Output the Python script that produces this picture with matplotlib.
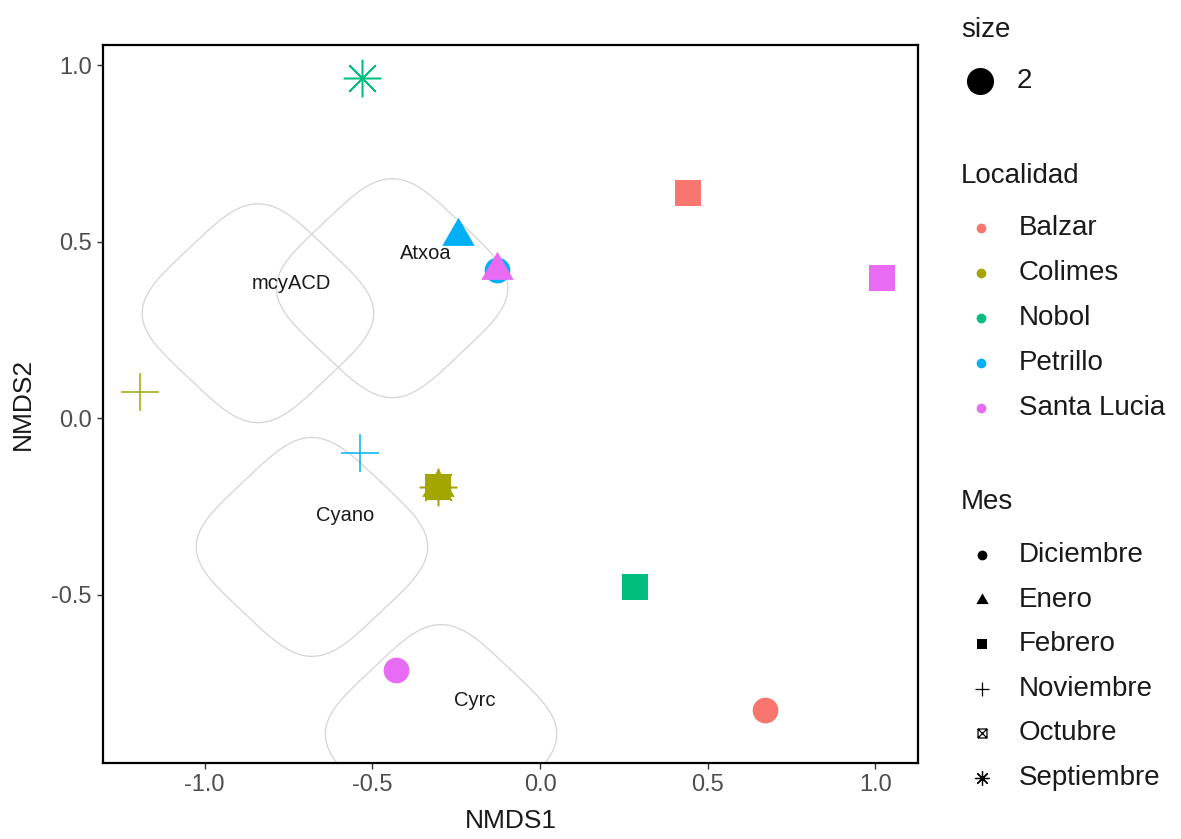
import matplotlib
matplotlib.use("Agg")
import matplotlib.pyplot as plt
import numpy as np
from matplotlib.path import Path
from matplotlib.lines import Line2D

plt.rcParams['font.family'] = ['Liberation Sans', 'DejaVu Sans']

# NMDS site scores
nmds1 = [-0.531, 0.441, -0.128, -0.244, -0.128, 1.020, -1.193, -0.537,
         -0.304, -0.304, -0.304, -0.304, -0.304, 0.283, -0.429, 0.671]
nmds2 = [0.963, 0.637, 0.419, 0.516, 0.419, 0.397, 0.074, -0.099,
         -0.195, -0.195, -0.195, -0.195, -0.195, -0.479, -0.714, -0.827]
localidad = ['Nobol', 'Balzar', 'Petrillo', 'Petrillo', 'Santa Lucia', 'Santa Lucia',
             'Colimes', 'Petrillo', 'Colimes', 'Colimes', 'Colimes', 'Colimes', 'Colimes',
             'Nobol', 'Santa Lucia', 'Balzar']
mes = ['Septiembre', 'Febrero', 'Diciembre', 'Enero', 'Enero', 'Febrero',
       'Noviembre', 'Noviembre', 'Diciembre', 'Enero', 'Febrero', 'Octubre', 'Septiembre',
       'Febrero', 'Diciembre', 'Diciembre']

# gene groups: label positions and outline centres
gene_labels = ['mcyACD', 'Atxoa', 'Cyano', 'Cyrc']
gene_label_x = [-0.742, -0.340, -0.581, -0.194]
gene_label_y = [0.380, 0.467, -0.275, -0.799]
hull_x = [-0.841, -0.441, -0.680, -0.295]
hull_y = [0.297, 0.368, -0.365, -0.895]

localidades = ['Balzar', 'Colimes', 'Nobol', 'Petrillo', 'Santa Lucia']
meses = ['Diciembre', 'Enero', 'Febrero', 'Noviembre', 'Octubre', 'Septiembre']
colores = {'Balzar': '#F8766D', 'Colimes': '#A3A500', 'Nobol': '#00BF7D',
           'Petrillo': '#00B0F6', 'Santa Lucia': '#E76BF3'}

tri = Path([(0, 0.577), (-0.5, -0.289), (0.5, -0.289), (0, 0.577)],
           [Path.MOVETO, Path.LINETO, Path.LINETO, Path.CLOSEPOLY])
sqx = Path([(-1, -1), (1, -1), (1, 1), (-1, 1), (-1, -1), (-1, -1), (1, 1), (-1, 1), (1, -1)],
           [Path.MOVETO, Path.LINETO, Path.LINETO, Path.LINETO, Path.LINETO,
            Path.MOVETO, Path.LINETO, Path.MOVETO, Path.LINETO])
# marker, size (pt), filled, edge width
formas = {'Diciembre': ('o', 18.5, True, 0),
          'Enero': (tri, 27, True, 0),
          'Febrero': ('s', 18.5, True, 0),
          'Noviembre': ('+', 27, False, 1.1),
          'Octubre': (sqx, 17, False, 1.1),
          'Septiembre': ((8, 2, 0), 27, False, 1.1)}


def rounded_diamond(cx, cy, a, b, n=4.0, k=300):
    t = np.linspace(0, 2 * np.pi, k)
    u = np.sign(np.cos(t)) * np.abs(np.cos(t)) ** (2 / n)
    v = np.sign(np.sin(t)) * np.abs(np.sin(t)) ** (2 / n)
    c = np.cos(np.pi / 4)
    xr = (u - v) * c
    yr = (u + v) * c
    ext = np.abs(xr).max()
    return cx + xr * a / ext, cy + yr * b / ext


fig = plt.figure(figsize=(11.81, 8.39), dpi=100)
ax = fig.add_axes([0.0872, 0.0906, 0.6901, 0.8558])

for hx, hy in zip(hull_x, hull_y):
    px, py = rounded_diamond(hx, hy, 0.345, 0.31)
    ax.plot(px, py, color='#d4d4d4', lw=0.9, zorder=1)

for lab, lx, ly in zip(gene_labels, gene_label_x, gene_label_y):
    ax.text(lx, ly, lab, ha='center', va='center', fontsize=14.5, color='#1a1a1a', zorder=2)

for x, y, loc, m in zip(nmds1, nmds2, localidad, mes):
    mk, ms, filled, ew = formas[m]
    col = colores[loc]
    if filled:
        ax.plot([x], [y], marker=mk, ms=ms, color=col, mec=col, mew=0, ls='none', zorder=3)
    else:
        ax.plot([x], [y], marker=mk, ms=ms, color=col, mfc='none', mec=col, mew=ew, ls='none', zorder=3)

ax.set_xlim(-1.303, 1.127)
ax.set_ylim(-0.977, 1.057)
ax.set_xticks([-1.0, -0.5, 0.0, 0.5, 1.0])
ax.set_yticks([-0.5, 0.0, 0.5, 1.0])
ax.set_xticklabels(['-1.0', '-0.5', '0.0', '0.5', '1.0'])
ax.set_yticklabels(['-0.5', '0.0', '0.5', '1.0'])
ax.tick_params(direction='out', length=4, width=1, color='#333333', labelcolor='#4d4d4d',
               labelsize=17, pad=4)
for sp in ax.spines.values():
    sp.set_linewidth(1.6)
    sp.set_color('black')
ax.set_xlabel('NMDS1', fontsize=19, color='#1a1a1a', labelpad=9)
ax.set_ylabel('NMDS2', fontsize=19, color='#1a1a1a', labelpad=12)


# legends drawn in figure pixel coords
def fx(p):
    return p / 1181


def fy(p):
    return 1 - p / 839


def key(xp, yp, **kw):
    fig.add_artist(Line2D([fx(xp)], [fy(yp)], transform=fig.transFigure, ls='none', **kw))


fs_t, fs_l = 20, 20
fig.text(fx(961), fy(30), 'size', fontsize=fs_t, va='center', ha='left', color='#1a1a1a')
key(980, 81, marker='o', ms=19.5, color='black', mew=0)
fig.text(fx(1017), fy(81), '2', fontsize=fs_l, va='center', ha='left', color='#1a1a1a')

fig.text(fx(961), fy(176), 'Localidad', fontsize=fs_t, va='center', ha='left', color='#1a1a1a')
for i, loc in enumerate(localidades):
    yp = 228 + 45 * i
    key(981, yp, marker='o', ms=7, color=colores[loc], mew=0)
    fig.text(fx(1019), fy(yp), loc, fontsize=fs_l, va='center', ha='left', color='#1a1a1a')

fig.text(fx(961), fy(502), 'Mes', fontsize=fs_t, va='center', ha='left', color='#1a1a1a')
for i, m in enumerate(meses):
    yp = 555 + 44.6 * i
    mk, ms, filled, ew = formas[m]
    if filled:
        key(982, yp, marker=mk, ms=ms * 0.38, color='black', mew=0)
    else:
        key(982, yp, marker=mk, ms=ms * 0.38, color='black', mfc='none', mew=0.9)
    fig.text(fx(1019), fy(yp), m, fontsize=fs_l, va='center', ha='left', color='#1a1a1a')

fig.savefig('out.png', dpi=100)
